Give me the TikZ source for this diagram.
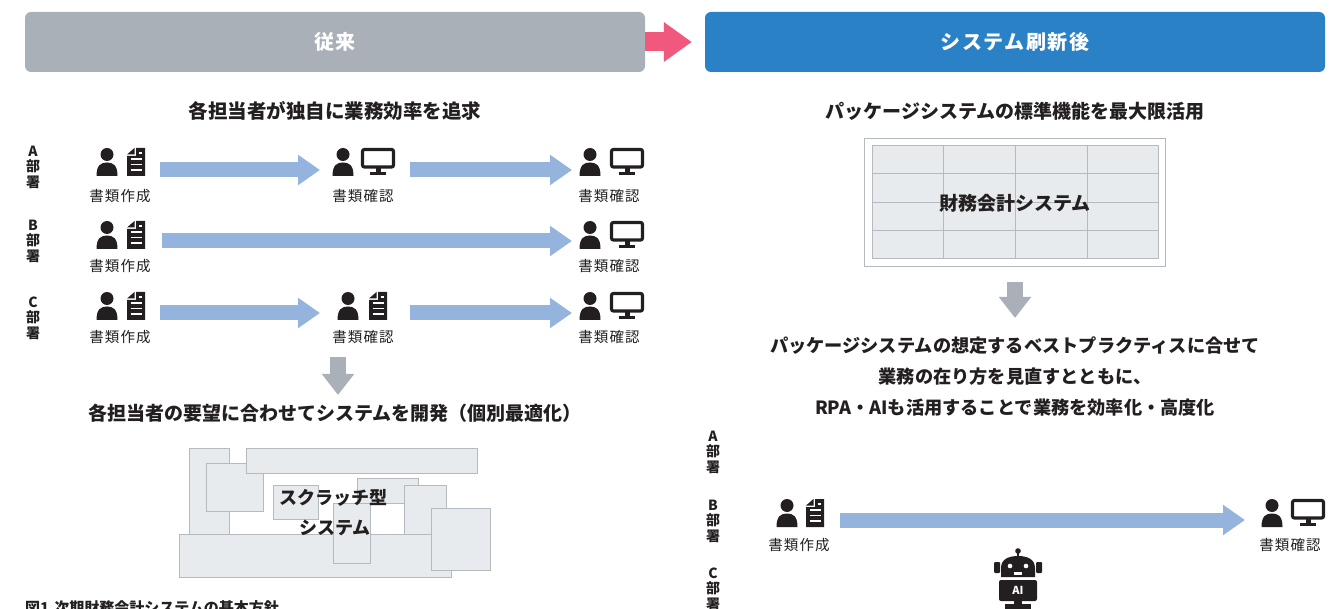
\documentclass[tikz,border=0pt]{standalone}
\usepackage{fontspec}
\setmainfont{Noto Sans CJK JP}
\newfontfamily\jpwide{Noto Sans CJK JP}[LetterSpace=8]
\usetikzlibrary{arrows.meta}

\definecolor{ink}{HTML}{231F20}
\definecolor{hdrgray}{HTML}{A9B0B7}
\definecolor{hdrblue}{HTML}{2A81C6}
\definecolor{pinkarrow}{HTML}{F0597D}
\definecolor{flowblue}{HTML}{94B4DE}
\definecolor{blockfill}{HTML}{E8EBED}
\definecolor{blockline}{HTML}{B4BAC0}

\tikzset{
  personicon/.pic={
    \fill[ink] (0,-7.5) circle (6.5pt);
    \fill[ink] (-10.5,14) .. controls (-10.5,3) and (-6,0.5) .. (0,0.5)
               .. controls (6,0.5) and (10.5,3) .. (10.5,14) -- cycle;
  },
  docicon/.pic={
    \fill[ink] (0,-14) -- (9,-14) -- (9,14) -- (-9,14) -- (-9,-6) -- (0,-6) -- cycle;
    \fill[ink] (-9,-7.5) -- (-1.5,-14) -- (-1.5,-7.5) -- cycle;
    \draw[white, line width=1.7pt] (2.5,-9) -- (6,-9) (-5.5,-3) -- (6,-3)
         (-5.5,2.5) -- (6,2.5) (-5.5,8) -- (6,8);
  },
  monitoricon/.pic={
    \draw[ink, line width=3.2pt, rounded corners=2pt] (-15.5,-12.5) rectangle (15.5,5);
    \fill[ink] (-2.5,6) rectangle (2.5,10);
    \fill[ink] (-8,10) rectangle (8,13);
  },
}

\begin{document}
\begin{tikzpicture}[x=1pt,y=-1pt,
  every node/.style={inner sep=0pt, text=ink},
  hdr/.style={rounded corners=6pt, minimum width=620pt, minimum height=60pt,
              text=white, font=\jpwide\fontsize{20}{24}\selectfont\bfseries},
  heading/.style={font=\fontsize{19}{22}\selectfont\bfseries},
  iconlabel/.style={font=\jpwide\fontsize{14.5}{17}\selectfont},
  dept/.style={align=center, font=\fontsize{14}{15.5}\selectfont\bfseries},
  flow/.style={draw=flowblue, line width=15pt, -{Triangle[length=22pt,width=29pt]}},
  down/.style={draw=hdrgray, line width=16pt, -{Triangle[length=21pt,width=31pt]}},
  block/.style={fill=blockfill, draw=blockline, line width=0.8pt},
]
\useasboundingbox (0,0) rectangle (1344,609);

% ---------- headers ----------
\node[hdr, fill=hdrgray] (old) at (335,42) {従来};
\node[hdr, fill=hdrblue] (new) at (1015,42) {システム刷新後};
\draw[pinkarrow, line width=19pt, -{Triangle[length=28pt,width=38pt]}]
  (old.east) -- ([xshift=-13pt]new.west);

% ---------- left: current workflow ----------
\node[heading, font=\fontsize{19.5}{22}\selectfont\bfseries] (lefttitle) at (335,111) {各担当者が独自に業務効率を追求};

\node[dept] (deptA) at (33,167) {A\\部\\署};
\node[dept] (deptB) at (33,241) {B\\部\\署};
\node[dept] (deptC) at (33,318) {C\\部\\署};

% row A
\pic at (107,162) {personicon}; \pic at (136,162) {docicon};
\node[iconlabel] (a1) at (120,196) {書類作成};
\pic at (343,162) {personicon}; \pic at (378,162) {monitoricon};
\node[iconlabel] (a2) at (363,196) {書類確認};
\pic at (590,162) {personicon}; \pic at (627,162) {monitoricon};
\node[iconlabel] (a3) at (609,196) {書類確認};
\coordinate (a1out) at (160,170); \coordinate (a2in) at (320,170);
\coordinate (a2out) at (410,170); \coordinate (a3in) at (572,170);
\draw[flow] (a1out) -- (a2in);
\draw[flow] (a2out) -- (a3in);

% row B
\pic at (107,235) {personicon}; \pic at (136,235) {docicon};
\node[iconlabel] (b1) at (120,266) {書類作成};
\pic at (590,235) {personicon}; \pic at (627,235) {monitoricon};
\node[iconlabel] (b2) at (609,266) {書類確認};
\coordinate (b1out) at (162,241); \coordinate (b2in) at (572,241);
\draw[flow] (b1out) -- (b2in);

% row C
\pic at (107,306) {personicon}; \pic at (136,306) {docicon};
\node[iconlabel] (c1) at (120,337) {書類作成};
\pic at (348,306) {personicon}; \pic at (378,306) {docicon};
\node[iconlabel] (c2) at (363,337) {書類確認};
\pic at (590,306) {personicon}; \pic at (627,306) {monitoricon};
\node[iconlabel] (c3) at (609,337) {書類確認};
\coordinate (c1out) at (160,313); \coordinate (c2in) at (320,313);
\coordinate (c2out) at (410,313); \coordinate (c3in) at (572,313);
\draw[flow] (c1out) -- (c2in);
\draw[flow] (c2out) -- (c3in);

% down arrow to the scratch-built system
\coordinate (ldowntop) at (338,357); \coordinate (ldownbot) at (338,395);
\draw[down] (ldowntop) -- (ldownbot);

\node[heading, font=\fontsize{19}{22}\selectfont\bfseries] (leftresult) at (335,413)
  {各担当者の要望に合わせてシステムを開発（個別最適化）};

% scratch-built system: overlapping patchwork blocks
\draw[block] (189,448) rectangle (229,535);
\draw[block] (206,463) rectangle (263,511);
\draw[block] (246,448) rectangle (477,473);
\draw[block] (273,485) rectangle (318,519);
\draw[block] (357,478) rectangle (418,503);
\draw[block] (404,485) rectangle (446,535);
\draw[block] (179,534) rectangle (451,577);
\draw[block] (333,503) rectangle (370,563);
\draw[block] (431,508) rectangle (490,570);
\node[font=\fontsize{18}{21}\selectfont\bfseries] (scratch1) at (333,498) {スクラッチ型};
\node[font=\fontsize{18}{21}\selectfont\bfseries] (scratch2) at (335,528) {システム};

\node[anchor=west, font=\fontsize{15}{18}\selectfont\bfseries] (caption) at (25,608)
  {図1\hspace{5pt}次期財務会計システムの基本方針};

% ---------- right: after renewal ----------
\node[heading] (righttitle) at (1015,111) {パッケージシステムの標準機能を最大限活用};

\draw[blockline, fill=white, line width=1pt] (864,139) rectangle (1165,267);
\draw[blockline, fill=blockfill, line width=1pt] (872,146) rectangle (1158,259);
\foreach \gx in {943,1015,1087} \draw[blockline, line width=1pt] (\gx,146) -- (\gx,259);
\foreach \gy in {174,203,231} \draw[blockline, line width=1pt] (872,\gy) -- (1158,\gy);
\node[font=\fontsize{19}{22}\selectfont\bfseries] (pkg) at (1015,203) {財務会計システム};

\coordinate (rdowntop) at (1015,282); \coordinate (rdownbot) at (1015,318);
\draw[down] (rdowntop) -- (rdownbot);

\node[heading, font=\fontsize{18.2}{22}\selectfont\bfseries] (r1) at (1015,346) {パッケージシステムの想定するベストプラクティスに合せて};
\node[heading, font=\fontsize{18.2}{22}\selectfont\bfseries] (r2) at (1015,377) {業務の在り方を見直すとともに、};
\node[heading, font=\fontsize{18.2}{22}\selectfont\bfseries] (r3) at (1015,408) {RPA・AIも活用することで業務を効率化・高度化};

\node[dept] (rdeptA) at (713,452) {A\\部\\署};
\node[dept] (rdeptB) at (713,521) {B\\部\\署};
\node[dept] (rdeptC) at (713,589) {C\\部\\署};

\pic at (787,513) {personicon}; \pic at (815,513) {docicon};
\node[iconlabel] (rb1) at (799,545) {書類作成};
\pic at (1272,513) {personicon}; \pic at (1308,513) {monitoricon};
\node[iconlabel] (rb2) at (1290,545) {書類確認};
\coordinate (rb1out) at (840,520); \coordinate (rb2in) at (1245,520);
\draw[flow] (rb1out) -- (rb2in);

% AI robot
\fill[ink] (1018,551) circle (2.8pt);
\fill[ink] (1016.6,552) rectangle (1019.4,557);
\fill[ink] (1001,577) -- (1001,568) .. controls (1001,559) and (1009,556) .. (1018,556)
           .. controls (1027,556) and (1035,559) .. (1035,568) -- (1035,577) -- cycle;
\fill[ink, rounded corners=1pt] (994,562) rectangle (1000,573);
\fill[ink, rounded corners=1pt] (1036,562) rectangle (1042,573);
\fill[white] (1010,566) circle (2.3pt);
\fill[white] (1026,566) circle (2.3pt);
\fill[white] (1014,572) rectangle (1022,574.5);
\fill[ink, rounded corners=2pt] (999,580) rectangle (1037,601);
\node[text=white, font=\fontsize{11}{12}\selectfont\bfseries] (ai) at (1018,590.5) {AI};
\fill[ink] (1014,601) rectangle (1022,604);
\fill[ink] (1005,604) rectangle (1031,612);
\end{tikzpicture}
\end{document}
